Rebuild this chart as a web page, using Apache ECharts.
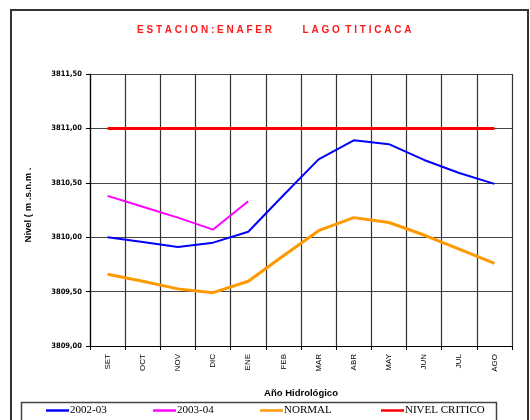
<!DOCTYPE html>
<html>
<head>
<meta charset="utf-8">
<script src="https://cdn.jsdelivr.net/npm/echarts@6/dist/echarts.min.js"></script>
<style>
  html, body { margin: 0; padding: 0; background: #fff; }
  #chart { width: 530px; height: 420px; }
</style>
</head>
<body>
<div id="chart"></div>
<script>
// Hydrological year months (September to August)
const months = ['SET', 'OCT', 'NOV', 'DIC', 'ENE', 'FEB', 'MAR', 'ABR', 'MAY', 'JUN', 'JUL', 'AGO'];

// Lake level, metres above sea level
const nivel2002_03 = [3810.00, 3809.955, 3809.91, 3809.95, 3810.05, 3810.385, 3810.715, 3810.89, 3810.855, 3810.71, 3810.59, 3810.49];
const nivel2003_04 = [3810.38, 3810.28, 3810.18, 3810.07, 3810.33, null, null, null, null, null, null, null];
const nivelNormal  = [3809.66, 3809.595, 3809.525, 3809.49, 3809.595, 3809.83, 3810.06, 3810.18, 3810.135, 3810.02, 3809.89, 3809.76];
const nivelCritico = [3811.00, 3811.00, 3811.00, 3811.00, 3811.00, 3811.00, 3811.00, 3811.00, 3811.00, 3811.00, 3811.00, 3811.00];

const seriesNames = ['2002-03', '2003-04', 'NORMAL', 'NIVEL CRITICO'];
const seriesColors = ['#0000ff', '#ff00ff', '#ff9900', '#ff0000'];

const yMin = 3809.0, yMax = 3811.5, yStep = 0.5;

const chart = echarts.init(document.getElementById('chart'), null, { renderer: 'canvas' });

const legendLefts = [46, 153, 260, 381];
const legendTextStyle = { fontFamily: 'Liberation Serif, Times New Roman, serif', fontSize: 11, color: '#000', padding: [0, 0, 0, -4] };

const legends = seriesNames.map((name, i) => ({
  data: [name],
  left: legendLefts[i],
  top: 405,
  icon: 'rect',
  itemWidth: 23,
  itemHeight: 2.5,
  itemGap: 0,
  padding: 0,
  textStyle: legendTextStyle,
  selectedMode: false
}));

const lineWidths = [2, 2, 3, 3];
const seriesData = [nivel2002_03, nivel2003_04, nivelNormal, nivelCritico];

chart.setOption({
  animation: false,
  backgroundColor: '#ffffff',
  title: {
    text: 'E S T A C I O N : E N A F E R           L A G O  T I T I C A C A',
    left: 137,
    top: 25,
    padding: 0,
    textStyle: { fontFamily: 'Liberation Sans, Arial, sans-serif', fontSize: 10, fontWeight: 'bold', color: '#ff1a1a' }
  },
  legend: legends,
  grid: { left: 90, top: 74, width: 422, height: 272, containLabel: false },
  xAxis: {
    type: 'category',
    data: months,
    boundaryGap: true,
    name: 'Año Hidrológico',
    nameLocation: 'middle',
    nameGap: 42,
    nameTextStyle: { fontFamily: 'Liberation Sans, Arial, sans-serif', fontSize: 9.5, fontWeight: 'bold', color: '#000' },
    axisLine: { lineStyle: { color: '#000', width: 1.2 } },
    axisTick: { show: true, length: 4, interval: 0, lineStyle: { color: '#000' } },
    axisLabel: { rotate: 90, interval: 0, margin: 8, fontFamily: 'Liberation Sans, Arial, sans-serif', fontSize: 8, color: '#000' },
    splitLine: { show: true, interval: 0, lineStyle: { color: '#333', width: 1.2 } }
  },
  yAxis: {
    type: 'value',
    min: yMin,
    max: yMax,
    interval: yStep,
    name: 'Nivel ( m .s.n.m .',
    nameLocation: 'middle',
    nameGap: 57,
    nameTextStyle: { fontFamily: 'Liberation Sans, Arial, sans-serif', fontSize: 9.5, fontWeight: 'bold', color: '#000', padding: [0, 0, 0, 10] },
    axisLine: { show: true, lineStyle: { color: '#000', width: 1.2 } },
    axisTick: { show: true, length: 4, lineStyle: { color: '#000' } },
    axisLabel: {
      margin: 8,
      fontFamily: 'DejaVu Sans Condensed, Liberation Sans Narrow, sans-serif',
      fontSize: 7.5,
      fontWeight: 'bold',
      color: '#000',
      formatter: v => v.toFixed(2).replace('.', ',')
    },
    splitLine: { show: true, lineStyle: { color: '#444', width: 1.2 } }
  },
  series: seriesNames.map((name, i) => ({
    name: name,
    type: 'line',
    data: seriesData[i],
    symbol: 'none',
    connectNulls: false,
    color: seriesColors[i],
    lineStyle: { color: seriesColors[i], width: lineWidths[i] },
    z: i === 3 ? 3 : 4
  })),
  graphic: [
    {
      type: 'rect',
      shape: { x: 11, y: 10, width: 517, height: 430 },
      style: { fill: 'none', stroke: '#333', lineWidth: 2 },
      silent: true
    },
    {
      type: 'rect',
      shape: { x: 21.5, y: 402.5, width: 475, height: 40 },
      style: { fill: 'none', stroke: '#444', lineWidth: 1.5 },
      silent: true
    }
  ]
});
</script>
</body>
</html>
